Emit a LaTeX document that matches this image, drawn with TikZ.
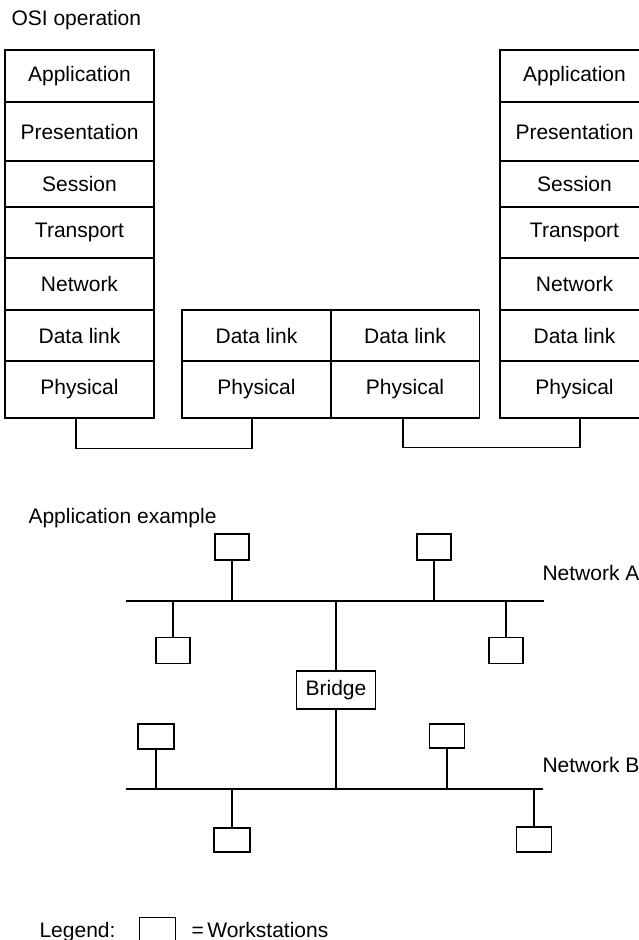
\documentclass[tikz,border=0pt]{standalone}
\usepackage{fontspec}
\setmainfont{Liberation Sans}
\usetikzlibrary{positioning, calc}

\begin{document}
\begin{tikzpicture}[x=1pt, y=-1pt, line width=1.1pt,
        font=\fontsize{21}{25}\selectfont,
        layer/.style={draw, inner sep=0pt, minimum width=149pt},
        ws/.style={draw, inner sep=0pt, minimum width=34pt, minimum height=26pt},
        lbl/.style={inner sep=0pt, anchor=base west}]
        \useasboundingbox (0,0) rectangle (639,940);

        % --- OSI operation ---
        \node[lbl] (osititle) at (11,25) {OSI operation};
        \foreach \s/\x in {l/79.5, r/574.5} {
            \foreach \n/\t/\y/\h in {app/Application/76/52, pres/Presentation/131.5/59,
                    sess/Session/184/46, trans/Transport/232.5/51, net/Network/284/52,
                    dl/Data link/335.5/51, phys/Physical/389.5/57} {
                \node[layer, minimum height=\h pt] (\s\n) at (\x,\y) {\t};
            }
        }
        % relay in the middle, two lower layers only
        \foreach \s/\x in {ma/256.5, mb/405} {
            \node[layer, minimum height=51pt] (\s dl) at (\x,335.5) {Data link};
            \node[layer, minimum height=57pt] (\s phys) at (\x,389.5) {Physical};
        }

        % --- physical links ---
        \draw ([xshift=-3.5pt]lphys.south) -- ++(0,30) -| ([xshift=-4.5pt]maphys.south);
        \draw ([xshift=-2pt]mbphys.south) -- ++(0,29) -| ([xshift=5.5pt]rphys.south);

        % --- application example ---
        \node[lbl] (apptitle) at (28,523) {Application example};

        % network A
        \coordinate (busAw) at (126,601);
        \coordinate (busAe) at (544,601);
        \draw (busAw) -- (busAe);
        \node[lbl] (netA) at (542,580) {Network A};
        \node[ws] (wsA1) at (232,547) {};
        \node[ws] (wsA2) at (434,547) {};
        \node[ws] (wsA3) at (173,650.5) {};
        \node[ws] (wsA4) at (506,650.5) {};
        \foreach \w in {wsA1, wsA2} { \draw (\w.south) -- (\w.south |- busAw); }
        \foreach \w in {wsA3, wsA4} { \draw (\w.north) -- (\w.north |- busAw); }

        % bridge between the two networks
        \node[draw, inner sep=0pt, minimum width=79.5pt, minimum height=38pt] (bridge) at (336,690) {Bridge};

        % network B
        \coordinate (busBw) at (126,789);
        \coordinate (busBe) at (543,789);
        \draw (busBw) -- (busBe);
        \node[lbl] (netB) at (542,772) {Network B};
        \node[ws, minimum width=36pt, minimum height=25pt] (wsB1) at (156,736.5) {};
        \node[ws, minimum width=35pt, minimum height=24pt] (wsB2) at (447,736) {};
        \node[ws, minimum width=36pt, minimum height=24pt] (wsB3) at (232,840) {};
        \node[ws, minimum width=35pt, minimum height=25pt] (wsB4) at (534,839.5) {};
        \foreach \w in {wsB1, wsB2} { \draw (\w.south) -- (\w.south |- busBw); }
        \foreach \w in {wsB3, wsB4} { \draw (\w.north) -- (\w.north |- busBw); }

        \draw (bridge.north) -- (bridge.north |- busAw);
        \draw (bridge.south) -- (bridge.south |- busBw);

        % --- legend ---
        \node[lbl] (legend) at (39,937) {Legend:};
        \node[draw, inner sep=0pt, minimum width=36pt, minimum height=26pt, anchor=north west] (wskey) at (139,917) {};
        \node[lbl] (wstext) at (191,937) {=\,Workstations};
    \end{tikzpicture}
\end{document}
